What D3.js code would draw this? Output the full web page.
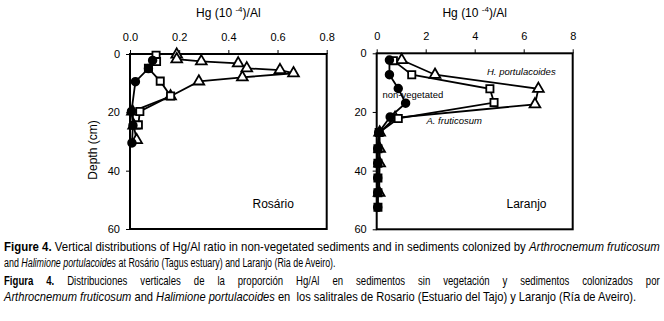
<!DOCTYPE html>
<html>
<head>
<meta charset="utf-8">
<script src="https://cdn.jsdelivr.net/npm/d3@7"></script>
<style>
  body { margin: 0; background: #fff; }
  svg { display: block; }
  .axis text { font-family: Arial, "Liberation Sans", sans-serif; font-size: 11px; fill: #000; }
  .axis path, .axis line { stroke: #000; }
</style>
</head>
<body>
<div id="chart"></div>
<script>
// Rosário (Tagus estuary) : [Hg/Al, depth cm]
const rosarioHalimione = [[0.19, 0.2], [0.19, 1.8], [0.29, 2.5], [0.44, 3.2], [0.475, 4.9], [0.61, 5.5],
  [0.665, 6.6], [0.457, 8.0], [0.28, 9.4], [0.165, 14.5], [0.01, 19.7], [0.015, 24.5], [0.027, 29.5]];
const rosarioArthro = [[0.106, 0.4], [0.108, 2.6], [0.075, 4.9], [0.123, 9.3], [0.165, 14.4],
  [0.04, 19.7], [0.034, 24.3]];
const rosarioNonVeg = [[0.092, 2.2], [0.075, 5.0], [0.022, 9.5], [0.006, 19.7], [0.012, 24.5], [0.008, 30.5]];

// Laranjo (Ria de Aveiro)
const laranjoHalimione = [[1.02, 2.3], [2.38, 7.3], [6.6, 12.1], [6.46, 17.4], [0.75, 22.0], [0.12, 27.0],
  [0.12, 32.5], [0.12, 37.5], [0.1, 47.5]];
const laranjoArthro = [[0.68, 2.5], [1.43, 7.3], [4.62, 12.1], [4.79, 16.8], [0.88, 22.2], [0.1, 27.0],
  [0.05, 32.5], [0.05, 37.5], [0.05, 42.5], [0.05, 47.5], [0.05, 52.5]];
const laranjoNonVeg = [[0.52, 2.3], [0.52, 7.3], [0.88, 12.0], [1.18, 17.0], [0.55, 21.7], [0.08, 27.0],
  [0.04, 32.5], [0.04, 37.5], [0.04, 42.5], [0.04, 47.5], [0.04, 52.5]];

const depthTicks = [0, 20, 40, 60];
const rosarioTicks = [0, 0.2, 0.4, 0.6, 0.8];
const laranjoTicks = [0, 2, 4, 6, 8];

const W = 664, H = 321;
const svg = d3.select("#chart").append("svg").attr("width", W).attr("height", H);
const font = 'Arial, "Liberation Sans", sans-serif';

function panel(opts) {
  const x = d3.scaleLinear().domain(opts.xDomain).range(opts.xRange);
  const y = d3.scaleLinear().domain([0, 60]).range(opts.yRange);
  const g = svg.append("g");

  g.append("g").attr("class", "axis")
    .attr("transform", `translate(0,${opts.yRange[0]})`)
    .call(d3.axisTop(x).tickValues(opts.xTicks).tickFormat(opts.fmt).tickSize(4).tickPadding(9).tickSizeOuter(0))
    .call(a => a.select(".domain").remove());

  g.append("g").attr("class", "axis")
    .attr("transform", `translate(${opts.xRange[0]},0)`)
    .call(d3.axisLeft(y).tickValues(depthTicks).tickSize(4).tickPadding(6).tickSizeOuter(0))
    .call(a => a.select(".domain").remove());

  // frame
  g.append("rect")
    .attr("x", opts.xRange[0]).attr("y", opts.yRange[0])
    .attr("width", opts.xRange[1] - opts.xRange[0]).attr("height", opts.yRange[1] - opts.yRange[0])
    .attr("fill", "none").attr("stroke", "#000").attr("stroke-width", 2);

  // axis title
  const t = g.append("text")
    .attr("x", (opts.xRange[0] + opts.xRange[1]) / 2).attr("y", 17)
    .attr("text-anchor", "middle").attr("font-family", font).attr("font-size", 12);
  t.append("tspan").text("Hg (10 ");
  t.append("tspan").attr("font-size", 8).attr("dy", -5).text("-4");
  t.append("tspan").attr("dy", 5).text(")/Al");

  const line = d3.line().x(d => x(d[0])).y(d => y(d[1]));
  const series = [
    { data: opts.hal, sym: d3.symbolTriangle, size: 50, fill: "#fff" },
    { data: opts.art, sym: d3.symbolSquare, size: 52, fill: "#fff" },
    { data: opts.non, sym: d3.symbolCircle, size: 46, fill: "#000" }
  ];
  series.forEach(s => {
    g.append("path").datum(s.data).attr("d", line)
      .attr("fill", "none").attr("stroke", "#000").attr("stroke-width", 1.8);
  });
  series.forEach(s => {
    g.selectAll(null).data(s.data).enter().append("path")
      .attr("transform", d => `translate(${x(d[0])},${y(d[1])})`)
      .attr("d", d3.symbol().type(s.sym).size(s.size))
      .attr("fill", s.fill).attr("stroke", "#000").attr("stroke-width", 1.8);
  });

  g.append("text").attr("x", opts.siteX).attr("y", 208)
    .attr("font-family", font).attr("font-size", 12).text(opts.site);
  return { x, y, g };
}

panel({
  xDomain: [0, 0.8], xRange: [130, 326.7], yRange: [54, 229], xTicks: rosarioTicks, fmt: d3.format(".1f"),
  hal: rosarioHalimione, art: rosarioArthro, non: rosarioNonVeg, site: "Rosário", siteX: 252.5
});
panel({
  xDomain: [0, 8], xRange: [376.7, 572.7], yRange: [53.3, 229.3], xTicks: laranjoTicks, fmt: d3.format("d"),
  hal: laranjoHalimione, art: laranjoArthro, non: laranjoNonVeg, site: "Laranjo", siteX: 506.5
});

// series labels in Laranjo panel
const lab = [
  { t: "H. portulacoides", x: 487, y: 75, it: true },
  { t: "non-vegetated", x: 382.5, y: 97.5, it: false },
  { t: "A. fruticosum", x: 426.5, y: 124, it: true }
];
lab.forEach(l => {
  svg.append("text").attr("x", l.x).attr("y", l.y).attr("font-family", font).attr("font-size", 9.5)
    .attr("font-style", l.it ? "italic" : "normal").text(l.t);
});

// y title
svg.append("text").attr("transform", "translate(97,150) rotate(-90)")
  .attr("text-anchor", "middle").attr("font-family", font).attr("font-size", 12).text("Depth (cm)");

// caption (narrow Arial look: Liberation Sans squeezed horizontally)
const caption = [
  { y: 251, w: 656, just: false, parts: [["Figure 4.", "b"], [" Vertical distributions of Hg/Al ratio in non-vegetated sediments and in sediments colonized by ", ""], ["Arthrocnemum fruticosum", "i"]] },
  { y: 267, w: 332, just: false, parts: [["and ", ""], ["Halimione portulacoides", "i"], [" at Rosário (Tagus estuary) and Laranjo (Ria de Aveiro).", ""]] },
  { y: 285, w: 656, just: true, parts: [["Figura 4.", "b"], [" Distribuciones verticales de la proporción Hg/Al en sedimentos sin vegetación y sedimentos colonizados por", ""]] },
  { y: 301, w: 633, just: false, parts: [["Arthrocnemum fruticosum", "i"], [" and ", ""], ["Halimione portulacoides", "i"], [" en  los salitrales de Rosario (Estuario del Tajo) y Laranjo (Ría de Aveiro).", ""]] }
];
const sxBase = 0.8;
caption.forEach(c => {
  const g = svg.append("g");
  const t = g.append("text").attr("x", 0).attr("y", 0).attr("font-family", font).attr("font-size", 12)
    .style("white-space", "pre");
  c.parts.forEach(p => {
    t.append("tspan").text(p[0])
      .attr("font-weight", p[1] === "b" ? "bold" : "normal")
      .attr("font-style", p[1] === "i" ? "italic" : "normal");
  });
  const w = t.node().getComputedTextLength();
  let sx = c.w / w;
  if (c.just) {
    sx = Math.min(sxBase, sx);
    const spaces = c.parts.map(p => p[0]).join("").split(" ").length - 1;
    t.style("word-spacing", ((c.w / sx - w) / spaces) + "px");
  }
  g.attr("transform", `translate(4,${c.y}) scale(${sx},1)`);
});
</script>
</body>
</html>
